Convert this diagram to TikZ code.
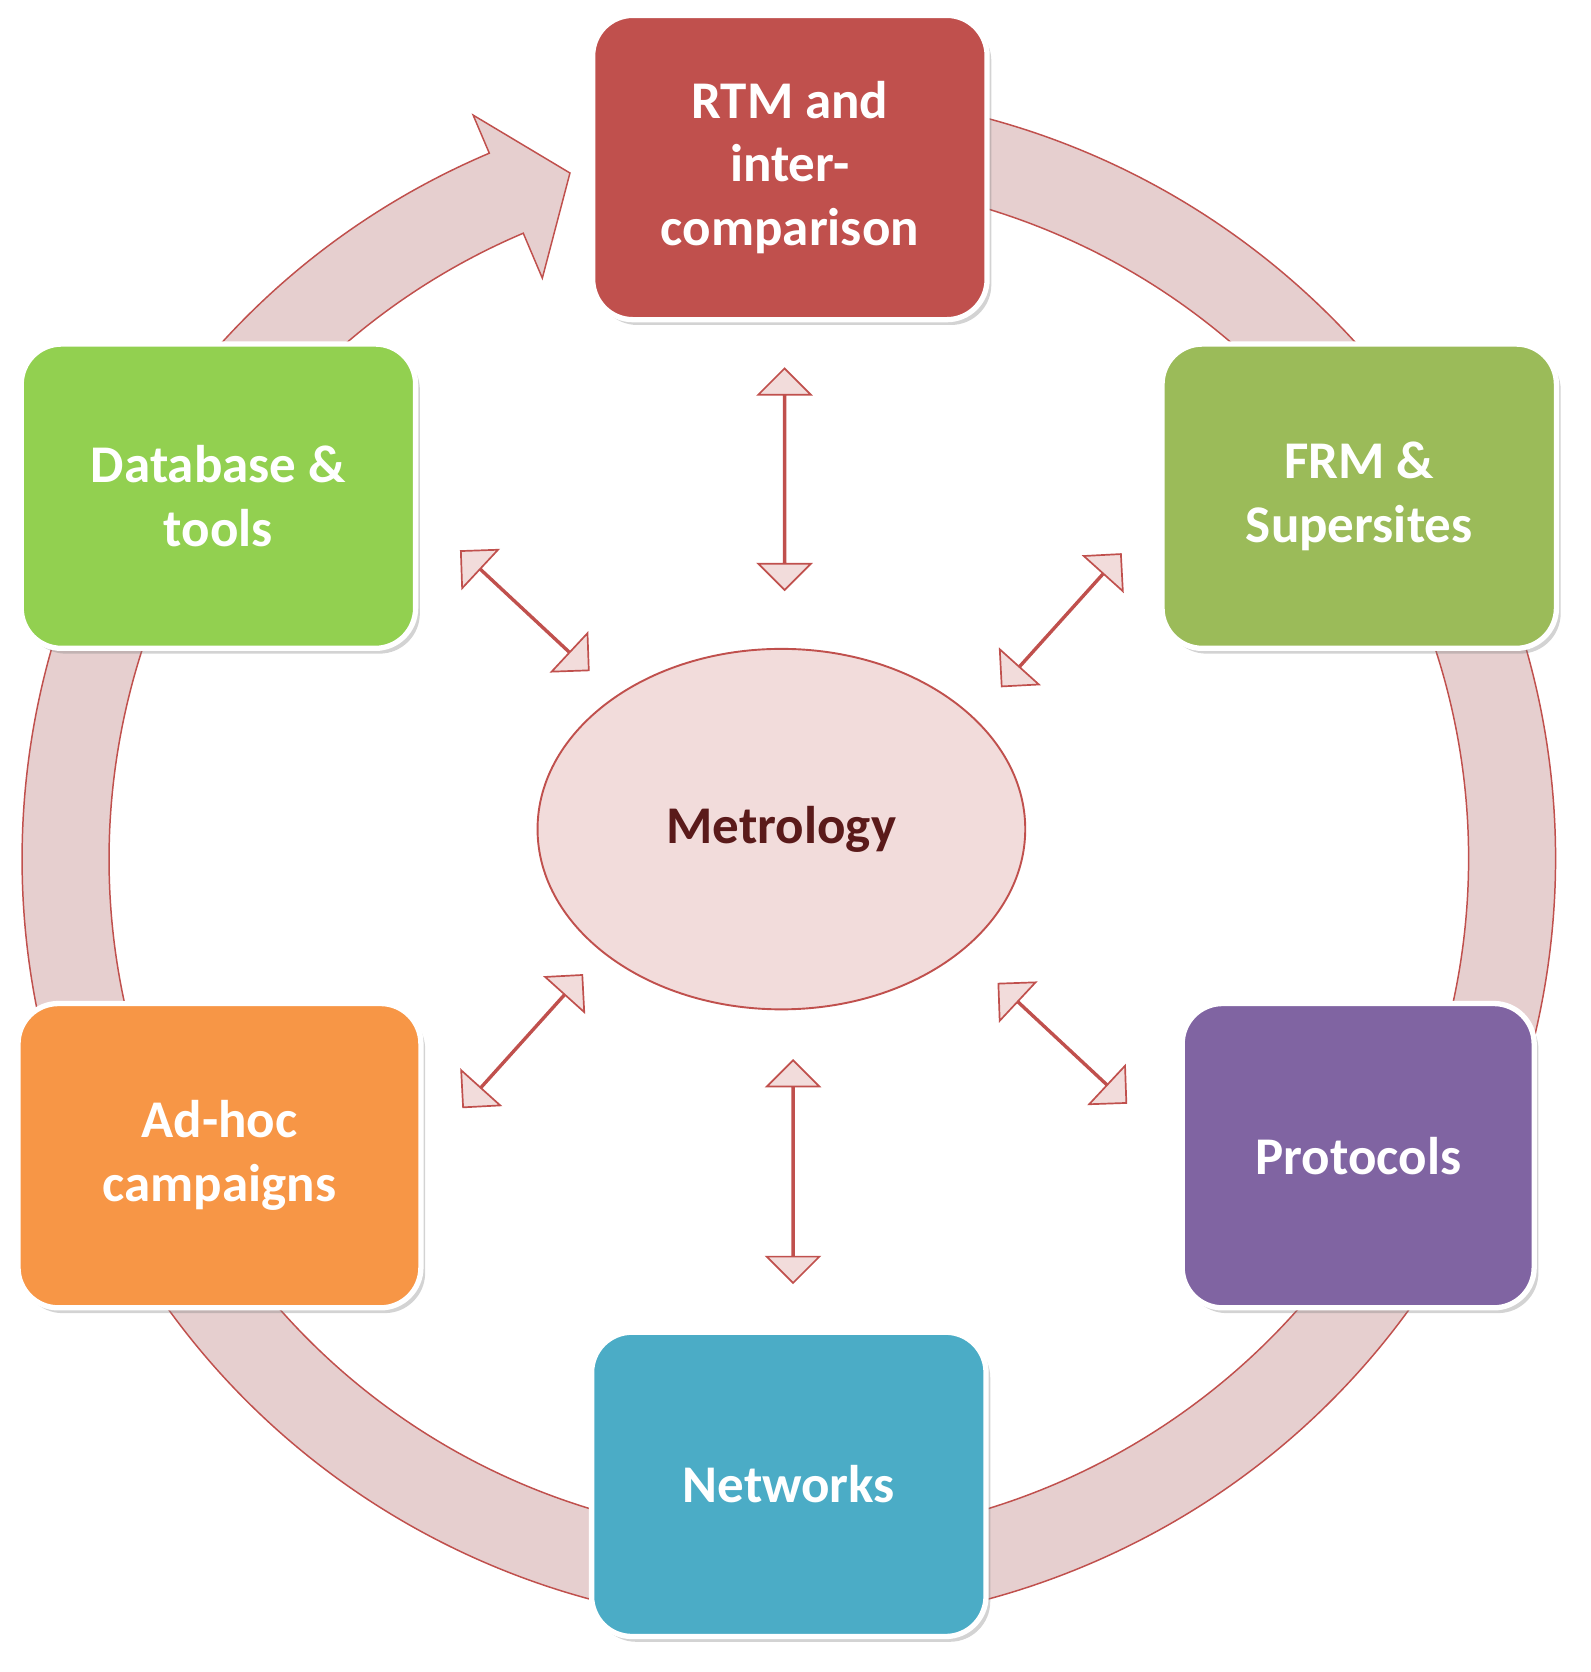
\documentclass[tikz,border=0pt]{standalone}
\usepackage{fontspec}
\setmainfont{Carlito}
\usetikzlibrary{shapes.arrows,shapes.geometric,calc,shadows}
\definecolor{ringfill}{HTML}{E6CFCF}
\definecolor{redl}{HTML}{C0504D}
\definecolor{pinkf}{HTML}{F2DCDB}
\begin{document}
\begin{tikzpicture}[x=1pt,y=-1pt,
 box/.style={draw=white,line width=5pt,rounded corners=38pt,minimum width=372pt,minimum height=287pt,align=center,text=white,font=\bfseries\fontsize{50}{60}\selectfont,drop shadow={shadow xshift=4pt,shadow yshift=-5pt,opacity=0.35}},
 darr/.style={double arrow,draw=redl,line width=1.6pt,fill=pinkf,inner sep=0pt,minimum width=48pt,double arrow head extend=24pt,double arrow tip angle=90}]
\useasboundingbox (0,0) rectangle (1500,1577);
\coordinate (C) at (744,810);
\fill[ringfill,draw=redl,line width=1.4pt]
 ($(C)+(-435:641)$) arc[start angle=-435,end angle=-113,radius=641]
 -- ($(C)+(-113:595)$) -- ($(C)+(-107.7:679)$) -- ($(C)+(-113:762)$)
 -- ($(C)+(-113:723)$) arc[start angle=-113,end angle=-435,radius=723] -- cycle;
\node[box,fill=redl] (rtm) at (745,158) {RTM and\\inter-\\comparison};
\node[box,fill={rgb,255:red,146;green,208;blue,80}] (db) at (206,468) {Database \&\\tools};
\node[box,fill={rgb,255:red,155;green,187;blue,89}] (frm) at (1282,468) {FRM \&\\Supersites};
\node[box,fill={rgb,255:red,247;green,150;blue,70},minimum width=380pt] (adhoc) at (207,1090) {Ad-hoc\\campaigns};
\node[box,fill={rgb,255:red,128;green,100;blue,162},minimum width=332pt] (prot) at (1281,1090) {Protocols};
\node[box,fill={rgb,255:red,75;green,172;blue,198}] (net) at (744,1400) {Networks};
\node[ellipse,draw=redl,line width=1.8pt,fill=pinkf,minimum width=460pt,minimum height=340pt,text={rgb,255:red,90;green,26;blue,26},font=\bfseries\fontsize{50}{60}\selectfont] (met) at (737,782) {Metrology};
\node[darr,minimum height=209pt,rotate=90] (a1) at (740,452) {};
\node[darr,minimum height=210pt,rotate=90] (a2) at (748,1105) {};
\node[darr,minimum height=165pt,rotate=-43] (a3) at (495,576) {};
\node[darr,minimum height=168pt,rotate=48] (a4) at (1001,585) {};
\node[darr,minimum height=168pt,rotate=48] (a5) at (493,982) {};
\node[darr,minimum height=165pt,rotate=-43] (a6) at (1002,984) {};
\end{tikzpicture}
\end{document}
